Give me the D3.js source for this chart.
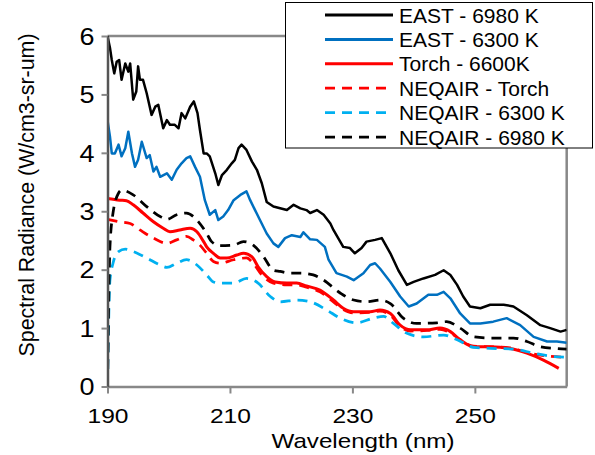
<!DOCTYPE html>
<html><head><meta charset="utf-8">
<script src="https://cdn.jsdelivr.net/npm/d3@7/dist/d3.min.js"></script>
<style>
body{margin:0;background:#fff;}
svg{display:block;font-family:"Liberation Sans",Arial,sans-serif;}
</style></head>
<body><svg id="chart" width="595" height="455"></svg>
<script>
// ---- Data ----
const seriesNames = ["EAST - 6980 K","EAST - 6300 K","Torch - 6600K","NEQAIR - Torch","NEQAIR - 6300 K","NEQAIR - 6980 K"];
const xTicks = [190,210,230,250];
const yTicks = [0,1,2,3,4,5,6];

const east6980Wl = [190.0,190.4,190.7,191.1,191.5,191.9,192.3,192.9,193.4,193.7,194.2,194.7,195.0,195.3,195.8,196.4,197.2,197.8,198.3,199.1,199.7,200.2,201.0,201.6,202.1,202.7,203.5,204.1,204.7,205.1,205.7,206.2,206.7,207.6,208.1,208.7,209.5,210.3,210.8,211.4,211.9,212.7,213.6,214.4,215.2,216.0,217.1,218.2,219.3,220.4,221.5,222.5,223.1,224.2,225.3,226.4,226.9,228.5,229.6,230.4,231.5,232.3,233.7,234.8,236.2,237.5,238.9,240.0,241.6,243.5,244.9,246.0,247.1,248.1,249.2,250.9,252.5,254.7,256.3,258.5,260.7,262.3,264.0,265.0];
const east6980Val = [6.00,5.80,5.59,5.36,5.56,5.59,5.25,5.53,5.39,5.53,4.91,5.05,5.48,5.25,5.25,5.02,4.65,4.79,4.82,4.42,4.56,4.48,4.48,4.42,4.68,4.59,4.79,4.88,4.68,4.39,3.99,3.99,3.94,3.65,3.45,3.62,3.71,3.82,3.88,4.08,4.14,4.05,3.85,3.71,3.48,3.16,3.08,3.05,3.02,3.11,3.05,3.02,2.97,3.02,2.94,2.79,2.68,2.39,2.37,2.28,2.37,2.48,2.51,2.54,2.28,1.99,1.74,1.79,1.85,1.91,1.99,1.91,1.74,1.54,1.37,1.34,1.40,1.40,1.37,1.22,1.05,1.00,0.94,0.97];

const east6300Wl = [190.0,190.4,190.7,191.2,191.8,192.3,192.9,193.4,194.0,194.5,195.0,195.6,196.4,196.9,197.5,198.0,198.6,199.7,200.5,201.3,202.1,202.9,203.5,204.3,205.1,205.9,206.7,207.6,208.1,208.9,209.7,210.6,211.7,212.7,213.3,214.1,214.9,216.0,217.1,217.9,219.0,220.1,221.5,222.0,223.1,224.2,225.5,226.1,227.4,229.1,230.2,231.8,232.9,233.7,234.5,236.2,237.8,239.2,240.5,242.4,243.8,244.9,246.0,247.6,249.2,250.9,253.0,255.2,257.4,259.6,261.8,263.4,265.0];
const east6300Val = [4.56,4.28,3.99,3.99,4.14,3.94,4.08,4.36,3.99,3.76,3.88,4.19,3.91,3.96,3.68,3.76,3.59,3.65,3.54,3.71,3.82,3.91,3.94,3.76,3.59,3.19,2.94,3.02,2.85,2.91,3.02,3.19,3.28,3.34,3.19,3.02,2.85,2.62,2.45,2.39,2.54,2.59,2.56,2.64,2.52,2.51,2.39,2.17,1.94,1.88,1.82,1.94,2.08,2.11,2.02,1.79,1.54,1.37,1.42,1.57,1.57,1.62,1.51,1.25,1.08,1.08,1.11,1.17,1.05,0.85,0.77,0.77,0.75];

const torchWl = [190.0,192.0,193.1,194.2,195.8,197.5,199.1,200.2,201.8,203.5,204.6,205.7,206.2,207.3,208.4,209.5,211.1,212.2,213.6,214.6,216.0,217.4,219.3,220.9,222.5,224.7,226.9,228.5,230.2,232.9,234.5,236.2,237.8,239.5,242.2,244.3,246.0,247.6,249.8,252.5,255.8,258.5,261.2,263.7];
const torchVal = [3.22,3.19,3.18,3.11,2.97,2.82,2.71,2.65,2.68,2.71,2.65,2.48,2.39,2.28,2.20,2.20,2.25,2.28,2.22,2.05,1.88,1.79,1.77,1.77,1.72,1.65,1.48,1.34,1.28,1.28,1.31,1.25,1.05,0.97,0.97,1.00,0.94,0.80,0.68,0.68,0.65,0.57,0.45,0.31];

const neqTorchWl = [190.0,192.0,193.7,195.3,197.5,199.7,201.3,202.9,204.0,205.1,206.2,207.3,208.4,210.6,212.7,213.8,215.2,217.1,219.3,220.9,222.5,224.7,226.9,228.5,230.2,232.9,234.5,236.2,237.8,239.5,242.2,244.3,246.0,247.6,249.8,252.5,255.8,258.5,261.2,265.0];
const neqTorchVal = [2.86,2.82,2.79,2.68,2.54,2.45,2.51,2.57,2.51,2.42,2.28,2.14,2.11,2.17,2.20,2.11,1.91,1.77,1.74,1.74,1.70,1.62,1.45,1.32,1.26,1.27,1.29,1.22,1.03,0.95,0.96,0.98,0.92,0.80,0.69,0.68,0.66,0.58,0.53,0.50];

const neq6300Wl = [190.0,190.4,190.9,191.8,192.9,194.2,196.4,198.6,199.7,201.3,202.9,204.6,206.2,207.3,208.4,210.6,212.7,214.6,216.6,218.2,220.9,223.1,225.8,228.0,230.7,233.4,235.1,236.7,238.9,241.6,244.9,247.1,249.8,253.6,256.3,259.6,262.3,265.0];
const neq6300Val = [0.00,1.82,2.11,2.31,2.35,2.31,2.20,2.08,2.04,2.11,2.17,2.08,1.91,1.79,1.77,1.77,1.85,1.77,1.54,1.45,1.48,1.45,1.31,1.17,1.09,1.17,1.20,1.08,0.91,0.85,0.88,0.80,0.67,0.65,0.64,0.57,0.52,0.50];

const neq6980Wl = [190.0,190.4,190.9,191.8,192.3,194.2,196.4,198.6,199.7,201.3,202.9,204.6,206.2,207.0,208.4,210.6,212.2,213.8,215.5,217.1,218.2,219.8,221.5,223.6,225.3,228.0,230.2,232.4,234.5,236.2,238.3,240.5,243.8,245.4,247.6,249.8,252.5,256.3,258.5,260.7,263.4,265.0];
const neq6980Val = [0.00,2.39,2.97,3.31,3.36,3.28,3.08,2.91,2.86,2.94,2.97,2.85,2.62,2.48,2.41,2.42,2.48,2.42,2.22,1.99,1.97,1.94,1.94,1.91,1.82,1.60,1.48,1.45,1.48,1.42,1.17,1.08,1.09,1.11,1.00,0.85,0.83,0.83,0.77,0.68,0.65,0.64];

const seriesColors = ["#000000","#0070C0","#FF0000","#FF0000","#00B0F0","#000000"];
const seriesDashed = [false,false,false,true,true,true];

// ---- Build ----
const series = [
  {wl:east6980Wl, v:east6980Val, smooth:false},
  {wl:east6300Wl, v:east6300Val, smooth:false},
  {wl:torchWl, v:torchVal, smooth:true},
  {wl:neqTorchWl, v:neqTorchVal, smooth:true},
  {wl:neq6300Wl, v:neq6300Val, smooth:true},
  {wl:neq6980Wl, v:neq6980Val, smooth:true}
].map((s,i)=>({...s, name:seriesNames[i], color:seriesColors[i], dashed:seriesDashed[i],
  pts:s.wl.map((w,j)=>[w,s.v[j]])}));

const svg = d3.select("#chart");
const L=107.5, R=566.7, T=36, B=386.5;
const x = d3.scaleLinear().domain([190,265]).range([L,R]);
const y = d3.scaleLinear().domain([0,6]).range([B,T]);
const frameColor = "#888888";

svg.append("defs").append("clipPath").attr("id","clip")
  .append("rect").attr("x",L).attr("y",T-2).attr("width",R-L).attr("height",B-T+2);

// frame top/right
svg.append("line").attr("x1",L).attr("x2",R).attr("y1",T).attr("y2",T)
  .attr("stroke",frameColor).attr("stroke-width",2.5);
svg.append("line").attr("x1",R).attr("x2",R).attr("y1",T).attr("y2",B)
  .attr("stroke",frameColor).attr("stroke-width",2.5);

// lines
const g = svg.append("g").attr("clip-path","url(#clip)");
series.forEach(s=>{
  const line = d3.line().x(d=>x(d[0])).y(d=>y(d[1]))
    .curve(s.smooth ? d3.curveMonotoneX : d3.curveLinear);
  g.append("path").datum(s.pts).attr("d",line).attr("fill","none")
    .attr("stroke",s.color)
    .attr("stroke-width", s.dashed ? 2.75 : (s.color==="#FF0000" ? 3 : 2.5))
    .attr("stroke-dasharray", s.dashed ? "10,7" : null)
    .attr("stroke-linejoin","round");
});

// x axis
const xAxis = svg.append("g").attr("transform",`translate(0,${B})`)
  .call(d3.axisBottom(x).tickValues(xTicks).tickSize(7).tickSizeOuter(0).tickFormat(d3.format("d")));
xAxis.select(".domain").attr("stroke",frameColor).attr("stroke-width",2.5);
xAxis.selectAll(".tick line").attr("stroke",frameColor).attr("stroke-width",2);
xAxis.selectAll(".tick text").attr("y",36.5).attr("dy",0)
  .attr("font-size",21).attr("fill","#000")
  .attr("font-family","Liberation Sans, Arial, sans-serif")
  .attr("textLength",41).attr("lengthAdjust","spacingAndGlyphs");

// y axis
const yAxis = svg.append("g").attr("transform",`translate(${L},0)`)
  .call(d3.axisLeft(y).tickValues(yTicks).tickSize(6).tickSizeOuter(0).tickFormat(d3.format("d")));
yAxis.select(".domain").attr("stroke","#555").attr("stroke-width",2.5);
yAxis.selectAll(".tick line").attr("stroke",frameColor).attr("stroke-width",2);
yAxis.selectAll(".tick text").attr("x",-13).attr("dy","0.36em")
  .attr("font-size",23).attr("fill","#000")
  .attr("font-family","Liberation Sans, Arial, sans-serif")
  .attr("textLength",15).attr("lengthAdjust","spacingAndGlyphs");

// axis titles
svg.append("text").attr("x",363).attr("y",448).attr("text-anchor","middle")
  .attr("font-size",21).attr("textLength",183).attr("lengthAdjust","spacingAndGlyphs")
  .text("Wavelength (nm)");
svg.append("text").attr("transform","translate(34,195) rotate(-90)").attr("text-anchor","middle")
  .attr("font-size",22).attr("textLength",323).attr("lengthAdjust","spacingAndGlyphs")
  .text("Spectral Radiance (W/cm3-sr-um)");

// legend
const lg = svg.append("g");
lg.append("rect").attr("x",285.5).attr("y",2.5).attr("width",307).attr("height",145.5)
  .attr("fill","#fff").attr("stroke","#000").attr("stroke-width",1);
series.forEach((s,i)=>{
  const cy = 15 + i*24.4;
  lg.append("line").attr("x1",325).attr("x2",393).attr("y1",cy).attr("y2",cy)
    .attr("stroke",s.color).attr("stroke-width",s.dashed?2.75:3)
    .attr("stroke-dasharray",s.dashed?"10,7":null);
  lg.append("text").attr("x",399).attr("y",cy+7.5).attr("font-size",21).text(s.name);
});
</script></body></html>
